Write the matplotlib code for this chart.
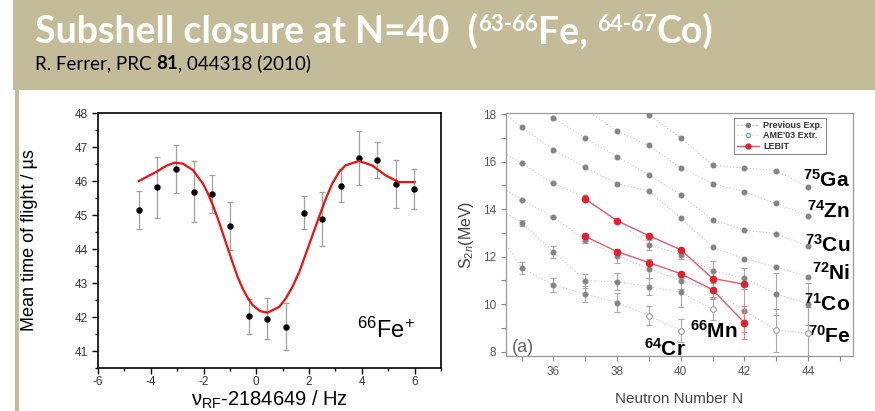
import matplotlib

matplotlib.use("Agg")
import matplotlib.pyplot as plt
from matplotlib.lines import Line2D
from matplotlib.patches import Rectangle
from matplotlib.ticker import MultipleLocator

plt.rcParams["font.family"] = ["Liberation Sans", "DejaVu Sans"]
plt.rcParams["mathtext.fontset"] = "custom"
plt.rcParams["mathtext.rm"] = "Liberation Sans"
plt.rcParams["mathtext.it"] = "Liberation Sans:italic"
plt.rcParams["mathtext.bf"] = "Liberation Sans:bold"
plt.rcParams["axes.unicode_minus"] = False

W, H = 875, 411
TAN = "#c4bb98"

# ---- left panel: TOF resonance of 66Fe+ ----
tof_freq = [-4.45, -3.76, -3.06, -2.37, -1.67, -0.98, -0.28, 0.42,
            1.11, 1.81, 2.50, 3.20, 3.89, 4.59, 5.28, 5.98]
tof_mean = [45.16, 45.81, 46.36, 45.69, 45.61, 44.68, 42.02, 41.95,
            41.72, 45.07, 44.88, 45.86, 46.67, 46.62, 45.91, 45.76]
tof_err = [0.56, 0.91, 0.70, 0.90, 0.56, 0.70, 0.52, 0.60,
           0.70, 0.48, 0.79, 0.48, 0.80, 0.53, 0.70, 0.58]

fit_freq = [-4.45, -3.79, -3.41, -3.09, -2.78, -2.40, -2.03, -1.83, -1.65,
            -1.46, -1.27, -1.08, -0.89, -0.71, -0.52, -0.33, -0.14, 0.15,
            0.43, 0.87, 1.12, 1.37, 1.63, 1.88, 2.13, 2.38, 2.64, 2.88,
            3.14, 3.38, 3.89, 4.39, 4.89, 5.40, 6.00]
fit_tof = [46.00, 46.27, 46.45, 46.54, 46.51, 46.32, 45.93, 45.63, 45.29,
           44.90, 44.46, 44.02, 43.58, 43.18, 42.84, 42.57, 42.35, 42.17,
           42.13, 42.30, 42.55, 42.89, 43.33, 43.87, 44.41, 44.95, 45.49, 45.93,
           46.27, 46.46, 46.59, 46.46, 46.17, 45.97, 45.97]

# ---- right panel: S2n systematics ----
ga_n = [38, 39, 40, 41, 42, 43, 44]
ga_s2n = [19.00, 17.97, 16.99, 15.84, 15.73, 15.61, 14.93]
zn_n = [37, 38, 39, 40, 41, 42, 43, 44]
zn_s2n = [18.20, 17.27, 16.68, 15.73, 15.07, 14.72, 14.24, 13.73]
cu_n = [35, 36, 37, 38, 39, 40, 41, 42, 43, 44]
cu_s2n = [18.60, 17.83, 16.99, 16.21, 15.44, 14.60, 13.55, 13.12, 12.96, 12.43]
ni_n = [34, 35, 36, 37, 38, 39, 40, 41, 42, 43, 44]
ni_s2n = [18.50, 17.44, 16.50, 15.75, 15.07, 14.77, 13.62, 12.40, 11.90, 11.57, 11.16]
co_n = [34, 35, 36, 37, 38, 39, 40, 41, 42, 43, 44]
co_s2n = [16.72, 15.92, 15.08, 14.49, 13.50, 12.50, 12.08, 11.40, 11.09, 10.43, 10.01]
co_err = [0, 0, 0, 0, 0, 0.20, 0.20, 0.40, 0.45, 0.90, 0.90]
fe_n = [34, 35, 36, 37, 38, 39, 40, 41, 42, 43, 44]
fe_s2n = [15.22, 14.40, 13.65, 12.71, 12.03, 11.49, 10.99, 10.60, 9.72, 8.90, 8.78]
fe_err = [0, 0, 0, 0.12, 0.30, 0.40, 0.35, 0.40, 0.90, 0.90, 1.10]
mn_n = [34, 35, 36, 37, 38, 39, 40, 41]
mn_s2n = [14.24, 13.42, 12.21, 10.99, 10.95, 10.74, 10.50, 9.79]
mn_err = [0, 0.12, 0.25, 0.30, 0.35, 0.35, 0.60, 0.45]
cr_n = [34, 35, 36, 37, 38, 39, 40]
cr_s2n = [13.50, 11.52, 10.81, 10.43, 10.07, 9.52, 8.89]
cr_err = [0, 0.25, 0.28, 0.35, 0.40, 0.40, 0.50]

ame_n = [39, 40, 41, 43, 44]
ame_s2n = [9.52, 8.89, 9.79, 8.90, 8.78]

lebit_n = [37, 38, 39, 40, 41, 42]
lebit_co = [14.42, 13.51, 12.88, 12.29, 11.08, 10.84]
lebit_fe = [12.85, 12.21, 11.75, 11.28, 10.61, 9.22]
lebit_fe_err = [0.05, 0.05, 0.05, 0.05, 0.30, 0.70]

isotope_labels = [r"$\mathbf{^{75}Ga}$", r"$\mathbf{^{74}Zn}$", r"$\mathbf{^{73}Cu}$",
                  r"$\mathbf{^{72}Ni}$", r"$\mathbf{^{71}Co}$", r"$\mathbf{^{70}Fe}$"]
isotope_label_y = [14.94, 13.65, 12.21, 11.02, 9.72, 8.36]


def rich_text(fig, renderer, x_px, y_px, runs, **kw):
    """Draw text pieces one after another on a common baseline (pixels from top-left)."""
    x = x_px
    for s, size, weight, dy in runs:
        t = fig.text(x / W, 1 - (y_px - dy) / H, s, fontsize=size,
                     fontweight=weight, ha="left", va="baseline", **kw)
        x = t.get_window_extent(renderer).x1
    return x


fig = plt.figure(figsize=(W / 100, H / 100), dpi=100)
fig.patch.set_facecolor("white")
fig.add_artist(Rectangle((13 / W, 1 - 90 / H), 1, 90 / H, transform=fig.transFigure,
                         facecolor=TAN, edgecolor="none", zorder=0))
fig.add_artist(Rectangle((15 / W, 0), 4 / W, 1 - 90 / H, transform=fig.transFigure,
                         facecolor=TAN, edgecolor="none", zorder=0))

renderer = fig.canvas.get_renderer()
title_font = dict(color="white", family=["Lato", "DejaVu Sans"])
rich_text(fig, renderer, 35, 43, [
    ("Subshell closure at N=40  (", 27, "bold", 0),
    ("63-66", 16, "bold", 12),
    ("Fe, ", 27, "bold", 0),
    ("64-67", 16, "bold", 12),
    ("Co)", 27, "bold", 0),
], **title_font)
sub_font = dict(color="black", family=["Lato", "DejaVu Sans"])
rich_text(fig, renderer, 35, 69, [
    ("R. Ferrer, PRC ", 13.5, "normal", 0),
    ("81", 13.5, "bold", 0),
    (", 044318 (2010)", 13.5, "normal", 0),
], **sub_font)

# left panel
ax1 = fig.add_axes([98 / W, 1 - 368 / H, 343 / W, 255 / H])
ax1.errorbar(tof_freq, tof_mean, yerr=tof_err, fmt="o", color="black", ms=3.6,
             ecolor="#a0a0a0", elinewidth=0.9, capsize=2.5, capthick=0.9, zorder=3)
ax1.plot(fit_freq, fit_tof, color="#f01010", lw=1.6, zorder=4)
ax1.set_xlim(-6, 7)
ax1.set_ylim(40.5, 48)
ax1.xaxis.set_major_locator(MultipleLocator(2))
ax1.xaxis.set_minor_locator(MultipleLocator(1))
ax1.yaxis.set_major_locator(MultipleLocator(1))
ax1.yaxis.set_minor_locator(MultipleLocator(0.5))
ax1.tick_params(which="both", direction="out", labelsize=8.5, labelcolor="#333333", width=1)
ax1.tick_params(which="major", length=4)
ax1.tick_params(which="minor", length=2)
ax1.tick_params(axis="x", pad=1.5)
for sp in ax1.spines.values():
    sp.set_linewidth(1.2)
ax1.set_xlabel("ν$_{\\mathrm{RF}}$-2184649 / Hz", fontsize=14.5, va="top")
ax1.xaxis.set_label_coords(0.5, -0.082)
ax1.set_ylabel("Mean time of flight / µs", fontsize=13)
ax1.yaxis.set_label_coords(-0.175, 0.5)
ax1.text(3.82, 41.38, r"$^{66}$Fe$^{+}$", fontsize=17, ha="left", va="baseline")

# right panel
ax2 = fig.add_axes([505.7 / W, 1 - 356 / H, 347 / W, 242.7 / H])
dot_kw = dict(ls=(0, (1.2, 2.2)), color="#bdbdbd", lw=0.7, zorder=1)
gray_kw = dict(ls="none", marker="o", ms=3.3, color="#858585", zorder=3)
for n, s in [(ga_n, ga_s2n), (zn_n, zn_s2n), (cu_n, cu_s2n), (ni_n, ni_s2n),
             (co_n, co_s2n), (fe_n, fe_s2n), (mn_n, mn_s2n), (cr_n, cr_s2n)]:
    ax2.plot(n, s, **dot_kw)
    ax2.plot(n, s, **gray_kw)
for n, s, e in [(co_n, co_s2n, co_err), (fe_n, fe_s2n, fe_err),
                (mn_n, mn_s2n, mn_err), (cr_n, cr_s2n, cr_err)]:
    ax2.errorbar(n, s, yerr=e, fmt="none", ecolor="#a8a8a8", elinewidth=0.8,
                 capsize=2, capthick=0.8, zorder=2)
ax2.plot(ame_n, ame_s2n, ls="none", marker="o", ms=4, mfc="white",
         mec="#a0a0a0", mew=0.8, zorder=4)
ax2.errorbar(lebit_n, lebit_fe, yerr=lebit_fe_err, fmt="none", ecolor="#f08080",
             elinewidth=0.8, capsize=2, capthick=0.8, zorder=4)
for s in (lebit_co, lebit_fe):
    ax2.plot(lebit_n, s, color="#e45a66", lw=1.0, marker="o", ms=4.5,
             mfc="#e2202e", mec="#e2202e", zorder=5)

for lab, y in zip(isotope_labels, isotope_label_y):
    ax2.text(45.33, y, lab, fontsize=15, ha="right", va="baseline")
ax2.text(41.8, 8.57, r"$\mathbf{^{66}Mn}$", fontsize=15, ha="right", va="baseline")
ax2.text(40.16, 7.84, r"$\mathbf{^{64}Cr}$", fontsize=15, ha="right", va="baseline")
ax2.text(34.69, 7.98, "(a)", fontsize=13, color="#666666", ha="left", va="baseline")

ax2.set_xlim(34.5, 45.4)
ax2.set_ylim(7.82, 18.03)
ax2.xaxis.set_major_locator(MultipleLocator(2))
ax2.xaxis.set_minor_locator(MultipleLocator(1))
ax2.yaxis.set_major_locator(MultipleLocator(2))
ax2.yaxis.set_minor_locator(MultipleLocator(1))
ax2.tick_params(which="both", direction="out", labelsize=8.5, labelcolor="#555555",
                color="#888888", width=0.8)
ax2.tick_params(which="major", length=3.5)
ax2.tick_params(which="minor", length=3.5)
for sp in ax2.spines.values():
    sp.set_color("#999999")
    sp.set_linewidth(0.9)
ax2.set_xlabel("Neutron Number N", fontsize=11, color="#444444", va="top")
ax2.xaxis.set_label_coords(0.5, -0.148)
ax2.set_ylabel("S$_{2n}$(MeV)", fontsize=11.5, color="#444444")
ax2.yaxis.set_label_coords(-0.086, 0.5)

handles = [
    Line2D([], [], ls=(0, (1.2, 2.2)), color="#b0b0b0", lw=0.8, marker="o", ms=3,
           mfc="#808080", mec="#808080"),
    Line2D([], [], ls=(0, (1.2, 2.2)), color="#c8dcdc", lw=0.8, marker="o", ms=3,
           mfc="white", mec="#80a8a8"),
    Line2D([], [], color="#e45a66", lw=1.0, marker="o", ms=3.5, mfc="#e2202e", mec="#e2202e"),
]
leg = ax2.legend(handles, ["Previous Exp.", "AME'03 Extr.", "LEBIT"],
                 loc="upper right", bbox_to_anchor=(0.923, 0.981), borderaxespad=0,
                 fancybox=False, framealpha=1, edgecolor="#888888",
                 prop=dict(size=6.5, weight="bold"), handlelength=2.4,
                 labelspacing=0.15, borderpad=0.35, handletextpad=0.5)
leg.get_frame().set_linewidth(0.8)
for t in leg.get_texts():
    t.set_color("#333333")

fig.savefig("out.png", dpi=100)
